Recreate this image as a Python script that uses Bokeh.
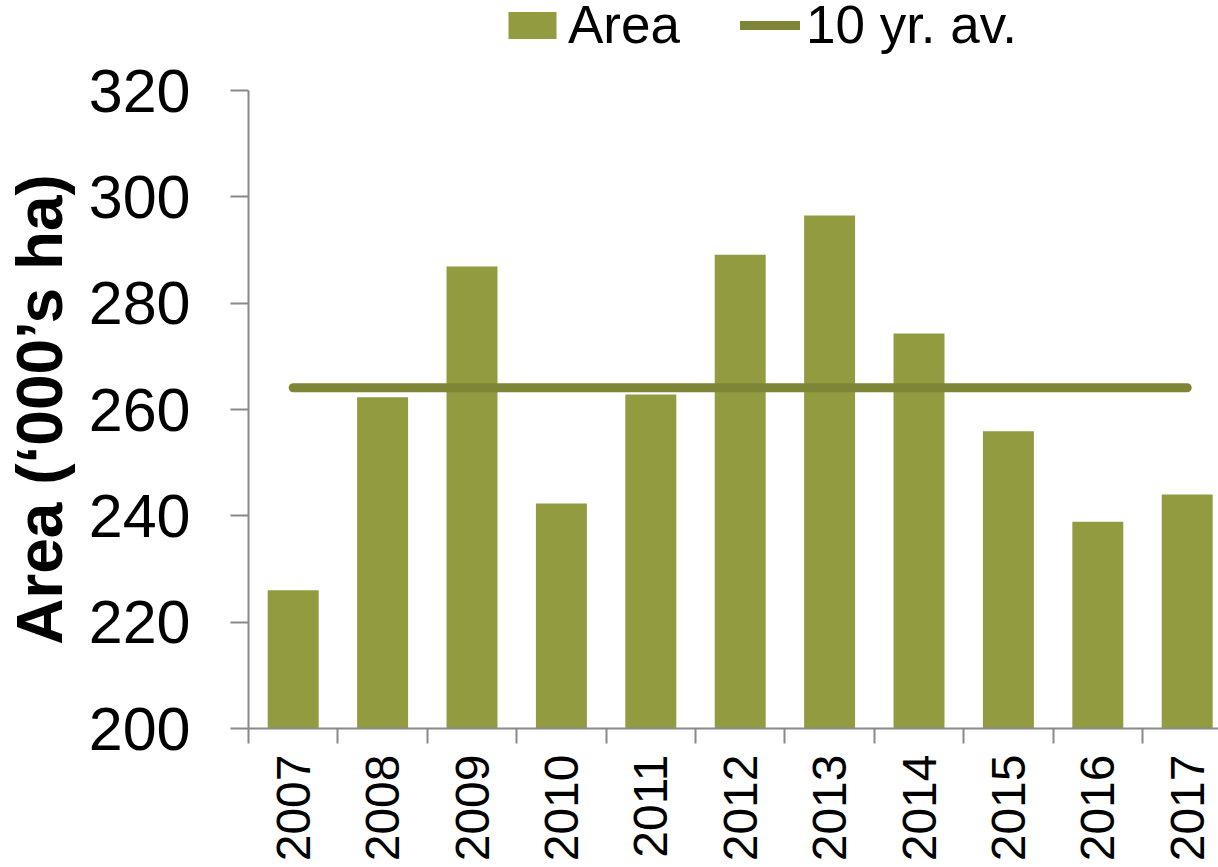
import math
from bokeh.plotting import figure
from bokeh.layouts import column
from bokeh.models import Range1d, FixedTicker, Legend, LegendItem
from bokeh.embed import file_html
from bokeh.resources import INLINE

# Planted area by season, thousand hectares
years = ["2007", "2008", "2009", "2010", "2011", "2012", "2013", "2014", "2015", "2016", "2017"]
area = [226.0, 262.3, 286.9, 242.3, 262.8, 289.1, 296.5, 274.3, 255.9, 238.9, 244.0]
avg_10yr = 264.1
y_ticks = [200, 220, 240, 260, 280, 300, 320]

FONT = "Liberation Sans"
BAR_COLOR = "#929B40"
LINE_COLOR = "#7F8536"
AXIS_COLOR = "#898989"

idx = list(range(len(years)))

bar_style = dict(fill_color=BAR_COLOR, line_color=None)
line_style = dict(line_color=LINE_COLOR, line_width=9, line_cap="round")


def add_series(fig):
    bars = fig.vbar(x=idx, top=area, bottom=y_ticks[0], width=0.57, **bar_style)
    avg = fig.line(x=[idx[0], idx[-1]], y=[avg_10yr, avg_10yr], **line_style)
    return bars, avg


# ---- main chart ----
p = figure(
    width=1218, height=811,
    output_backend="svg", toolbar_location=None, title_location=None,
    x_range=Range1d(-0.5, 10.35), y_range=Range1d(200, 320),
    min_border_left=245, min_border_right=0,
    min_border_top=34, min_border_bottom=139,
)
p.outline_line_color = None
p.grid.visible = False
add_series(p)

# x axis: labels at category centres, tick marks on category boundaries
xa = p.xaxis[0]
xa.ticker = FixedTicker(ticks=idx, minor_ticks=[i - 0.5 for i in range(len(years) + 1)])
xa.major_label_overrides = {i: y for i, y in zip(idx, years)}
xa.major_label_orientation = math.pi / 2
xa.major_tick_out = 0
xa.major_tick_in = 0
xa.minor_tick_out = 15
xa.minor_tick_in = 0
xa.minor_tick_line_color = AXIS_COLOR
xa.minor_tick_line_width = 2
xa.axis_line_color = AXIS_COLOR
xa.axis_line_width = 2
xa.major_label_text_font = FONT
xa.major_label_text_font_size = "48px"
xa.major_label_text_color = "black"
xa.major_label_standoff = 11

ya = p.yaxis[0]
ya.ticker = FixedTicker(ticks=y_ticks)
ya.major_tick_out = 18
ya.major_tick_in = 0
ya.minor_tick_line_color = None
ya.major_tick_line_color = AXIS_COLOR
ya.major_tick_line_width = 2
ya.axis_line_color = AXIS_COLOR
ya.axis_line_width = 2
ya.major_label_text_font = FONT
ya.major_label_text_font_size = "61px"
ya.major_label_text_color = "black"
ya.major_label_standoff = 40
ya.axis_label = "Area (\u2018000\u2019s ha)"
ya.axis_label_text_font = FONT
ya.axis_label_text_font_style = "bold"
ya.axis_label_text_font_size = "64px"
ya.axis_label_text_color = "black"
ya.axis_label_standoff = 10

# ---- legend strip across the top ----
leg = figure(
    width=1218, height=56,
    output_backend="svg", toolbar_location=None, title_location=None,
    x_axis_location=None, y_axis_location=None,
    x_range=Range1d(0, 1), y_range=Range1d(0, 1),
    min_border=0,
)
leg.outline_line_color = None
leg.grid.visible = False
key_bar, key_line = add_series(leg)
key_bar.visible = False
key_line.visible = False

legend = Legend(
    items=[LegendItem(label="Area", renderers=[key_bar]),
           LegendItem(label="10 yr. av.", renderers=[key_line])],
    orientation="horizontal",
    location=(254, 1),
    glyph_width=60, glyph_height=34,
    label_standoff=6, spacing=60, padding=0, margin=0,
    label_text_font=FONT, label_text_font_size="53px",
    label_text_color="black",
    inactive_fill_alpha=0,
    border_line_color=None, background_fill_alpha=0,
)
leg.add_layout(legend, "center")

layout = column(leg, p, spacing=0)
open("out.html", "w").write(file_html(layout, INLINE))
